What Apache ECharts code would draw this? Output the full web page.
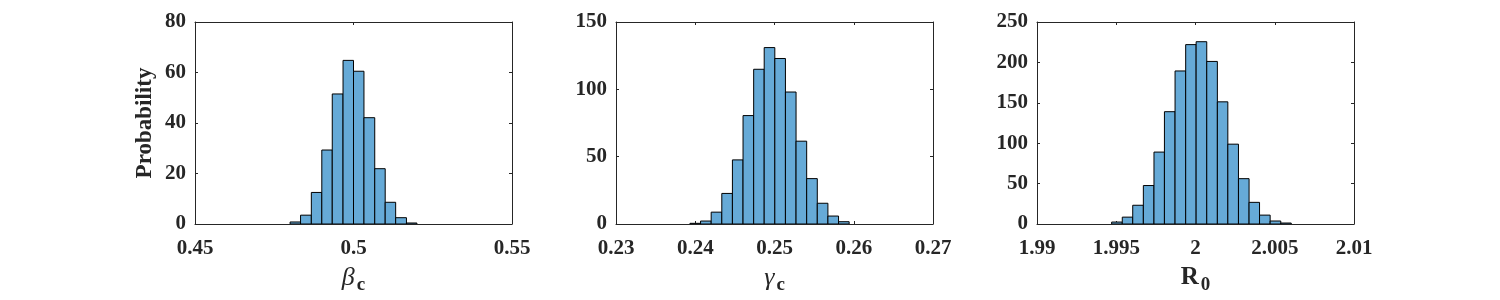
<!DOCTYPE html>
<html>
<head>
<meta charset="utf-8">
<script src="https://cdn.jsdelivr.net/npm/echarts@6/dist/echarts.min.js"></script>
<style>
html,body{margin:0;padding:0;background:#fff;}
#chart{width:1500px;height:300px;}
</style>
</head>
<body>
<div id="chart"></div>
<script>
// ---- Data ----
// Panel 1: beta_c
const betaEdges = [0.4800, 0.4833, 0.4867, 0.4900, 0.4933, 0.4967, 0.5000, 0.5033, 0.5067, 0.5100, 0.5133, 0.5167, 0.5200];
const betaValues = [0.8, 3.5, 12.5, 29.3, 51.5, 64.8, 60.5, 42.1, 21.9, 8.6, 2.5, 0.4];
const betaXTicks = [0.45, 0.5, 0.55];
const betaYTicks = [0, 20, 40, 60, 80];

// Panel 2: gamma_c
const gammaEdges = [0.23933, 0.24067, 0.24201, 0.24335, 0.24469, 0.24603, 0.24737, 0.24870, 0.25004, 0.25138, 0.25272, 0.25406, 0.25540, 0.25674, 0.25808, 0.25942];
const gammaValues = [0.5, 2.2, 8.8, 22.7, 47.6, 80.5, 114.9, 131.0, 122.9, 98.0, 61.5, 33.7, 15.4, 5.9, 1.7];
const gammaXTicks = [0.23, 0.24, 0.25, 0.26, 0.27];
const gammaYTicks = [0, 50, 100, 150];

// Panel 3: R0
const r0Edges = [1.99471, 1.99538, 1.99604, 1.99671, 1.99738, 1.99804, 1.99871, 1.99938, 2.00004, 2.00071, 2.00138, 2.00204, 2.00271, 2.00338, 2.00404, 2.00471, 2.00538, 2.00604];
const r0Values = [2.4, 8.5, 23.2, 47.6, 89.0, 139.0, 189.4, 222.0, 225.6, 201.2, 151.2, 98.8, 56.1, 26.8, 11.0, 3.7, 1.2];
const r0XTicks = [1.99, 1.995, 2, 2.005, 2.01];
const r0YTicks = [0, 50, 100, 150, 200, 250];

const yAxisTitle = 'Probability';

// ---- Build options ----
const FONT = "'Liberation Serif','Times New Roman',serif";
const TXT = '#262626';
const FILL = '#66AAD7';

const panels = [
  {edges: betaEdges, values: betaValues, xt: betaXTicks, yt: betaYTicks, xInt: 0.05, yInt: 20,
   name: '{g|β}{s|c}', left: 195},
  {edges: gammaEdges, values: gammaValues, xt: gammaXTicks, yt: gammaYTicks, xInt: 0.01, yInt: 50,
   name: '{g|γ}{s|c}', left: 616},
  {edges: r0Edges, values: r0Values, xt: r0XTicks, yt: r0YTicks, xInt: 0.005, yInt: 50,
   name: '{r|R}{s|0}', left: 1037}
];

const grids = [], xAxes = [], yAxes = [], series = [];
const rich = {
  g: {fontFamily: FONT, fontStyle: 'italic', fontSize: 26, color: TXT, verticalAlign: 'top', lineHeight: 30},
  r: {fontFamily: FONT, fontWeight: 'bold', fontSize: 25, color: TXT, verticalAlign: 'top', lineHeight: 30},
  s: {fontFamily: FONT, fontWeight: 'bold', fontSize: 19, color: TXT, verticalAlign: 'bottom', lineHeight: 30, padding: [12, 0, 0, 2]}
};
const fmt = v => String(+(+v).toFixed(6));

panels.forEach((p, i) => {
  grids.push({left: p.left, top: 22, width: 317, height: 205, containLabel: false});
  const xmin = p.xt[0], xmax = p.xt[p.xt.length - 1];
  const ymin = p.yt[0], ymax = p.yt[p.yt.length - 1];
  const lineStyle = {color: TXT, width: 1};
  // bottom x
  xAxes.push({
    type: 'value', gridIndex: i, position: 'bottom', min: xmin, max: xmax, interval: p.xInt,
    axisLine: {show: true, onZero: false, lineStyle},
    axisTick: {show: true, inside: true, length: 3, lineStyle},
    axisLabel: {show: true, margin: 14, fontFamily: FONT, fontWeight: 'bold', fontSize: 21, color: TXT, formatter: fmt, showMinLabel: true, showMaxLabel: true},
    splitLine: {show: false},
    name: p.name, nameLocation: 'middle', nameGap: 41,
    nameTextStyle: {rich: rich}
  });
  // top x
  xAxes.push({
    type: 'value', gridIndex: i, position: 'top', min: xmin, max: xmax, interval: p.xInt,
    axisLine: {show: true, onZero: false, lineStyle},
    axisTick: {show: true, inside: true, length: 3, lineStyle},
    axisLabel: {show: false}, splitLine: {show: false}
  });
  // left y
  const ly = {
    type: 'value', gridIndex: i, position: 'left', min: ymin, max: ymax, interval: p.yInt,
    axisLine: {show: true, onZero: false, lineStyle},
    axisTick: {show: true, inside: true, length: 3, lineStyle},
    axisLabel: {show: true, margin: 9, fontFamily: FONT, fontWeight: 'bold', fontSize: 21, color: TXT, showMinLabel: true, showMaxLabel: true},
    splitLine: {show: false}
  };
  if (i === 0) {
    ly.name = yAxisTitle;
    ly.nameLocation = 'middle';
    ly.nameGap = 38;
    ly.nameRotate = 90;
    ly.nameTextStyle = {fontFamily: FONT, fontWeight: 'bold', fontSize: 23, color: TXT};
  }
  yAxes.push(ly);
  // right y
  yAxes.push({
    type: 'value', gridIndex: i, position: 'right', min: ymin, max: ymax, interval: p.yInt,
    axisLine: {show: true, onZero: false, lineStyle},
    axisTick: {show: true, inside: true, length: 3, lineStyle},
    axisLabel: {show: false}, splitLine: {show: false}
  });
  const data = p.values.map((v, k) => [p.edges[k], p.edges[k + 1], v]);
  series.push({
    type: 'custom', xAxisIndex: 2 * i, yAxisIndex: 2 * i, clip: true,
    encode: {x: [0, 1], y: 2},
    data: data,
    renderItem: function (params, api) {
      const s = api.value(0), e = api.value(1), v = api.value(2);
      const p0 = api.coord([s, v]);
      const p1 = api.coord([e, 0]);
      return {
        type: 'rect',
        shape: {x: p0[0], y: p0[1], width: p1[0] - p0[0], height: p1[1] - p0[1]},
        style: {fill: FILL, stroke: '#000', lineWidth: 1}
      };
    }
  });
});

const chart = echarts.init(document.getElementById('chart'), null, {renderer: 'canvas'});
chart.setOption({
  animation: false,
  backgroundColor: '#fff',
  grid: grids, xAxis: xAxes, yAxis: yAxes, series: series
});
</script>
</body>
</html>
